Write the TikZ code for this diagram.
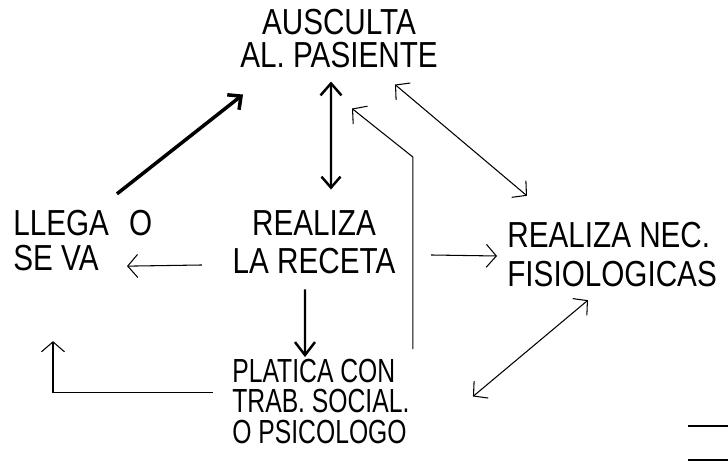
\documentclass[tikz,border=0pt]{standalone}
\usepackage{fontspec}
\usetikzlibrary{arrows.meta}
\newfontfamily\diagfont[FakeStretch=0.82]{Liberation Sans}
\newfontfamily\diagslim[FakeStretch=0.74]{Liberation Sans}
\newcommand{\lblfont}[1]{\diagfont\fontsize{20.6pt}{#1}\selectfont}
\newcommand{\lblslim}[1]{\diagslim\fontsize{19pt}{#1}\selectfont}

\begin{document}
\begin{tikzpicture}[x=0.02cm, y=-0.02cm,
  lbl/.style={inner sep=0pt, text=black},
  thin arrow/.style={line width=0.6pt, -{Straight Barb[length=0.2cm,width=0.46cm]}},
  thin twoway/.style={line width=0.6pt, {Straight Barb[length=0.2cm,width=0.44cm]}-{Straight Barb[length=0.2cm,width=0.44cm]}},
  thick arrow/.style={line width=1.4pt, -{Straight Barb[length=0.24cm,width=0.42cm]}}]
  \useasboundingbox (0,0) rectangle (728,472);

  % Activities
  \node[lbl, align=center, font=\lblfont{19.2pt}] (ausculta) at (339,38.5) {AUSCULTA\\AL. PASIENTE};
  \node[lbl, align=left, anchor=west, font=\lblfont{19.9pt}] (llega) at (13,240.5) {LLEGA\hspace{0.4cm}O\\SE VA};
  \node[lbl, align=center, font=\lblfont{21.6pt}] (receta) at (314,242.5) {REALIZA\\LA RECETA};
  \node[lbl, align=left, anchor=west, font=\lblfont{22.2pt}] (necesid) at (507,254.5) {REALIZA NEC.\\FISIOLOGICAS};
  \node[lbl, align=left, anchor=west, font=\lblslim{17.2pt}] (platica) at (232,401.5) {PLATICA CON\\TRAB. SOCIAL.\\O PSICOLOGO};

  % Flow between them
  \draw[thick arrow, line width=2pt, -{Straight Barb[length=0.2cm,width=0.38cm]}]
    ([xshift=2.08cm,yshift=0.32cm]llega.north west) -- ([xshift=-1.92cm,yshift=-0.52cm]ausculta.south);
  \draw[thick arrow, {Straight Barb[length=0.24cm,width=0.42cm]}-{Straight Barb[length=0.22cm,width=0.38cm]}]
    ([xshift=-0.16cm,yshift=-0.26cm]ausculta.south) -- ([xshift=0.34cm,yshift=0.42cm]receta.north);
  \draw[thick arrow, -{Straight Barb[length=0.26cm,width=0.4cm]}]
    ([xshift=-0.18cm,yshift=-0.30cm]receta.south) -- ([xshift=1.46cm,yshift=0.04cm]platica.north west);
  \draw[thin arrow] ([xshift=-0.61cm,yshift=-0.45cm]receta.west) -- ([xshift=2.28cm,yshift=0.1cm]llega.south west);
  \draw[thin arrow] ([xshift=0.71cm,yshift=-0.25cm]receta.east) -- ([xshift=-0.2cm,yshift=-0.03cm]necesid.west);
  \draw[thin twoway] ([xshift=1.12cm,yshift=-0.32cm]ausculta.south) -- ([xshift=0.4cm,yshift=0.52cm]necesid.north west);
  \draw[thin twoway] ([xshift=4.82cm,yshift=0.1cm]platica.west) -- ([xshift=1.62cm,yshift=-0.26cm]necesid.south west);
  \draw[thin arrow] ([xshift=3.62cm,yshift=0.2cm]platica.north west) -- ++(0,-192)
    -- ([xshift=0.26cm,yshift=-0.8cm]ausculta.south);
  \draw[thin arrow] ([xshift=-0.38cm,yshift=0.18cm]platica.west) -| ([xshift=0.8cm,yshift=-1.4cm]llega.south west);

  % Marks at the lower right
  \draw[line width=1.1pt] (688,426) -- (728,426);
  \draw[line width=1.7pt] (688,460) -- (728,460);
\end{tikzpicture}
\end{document}
